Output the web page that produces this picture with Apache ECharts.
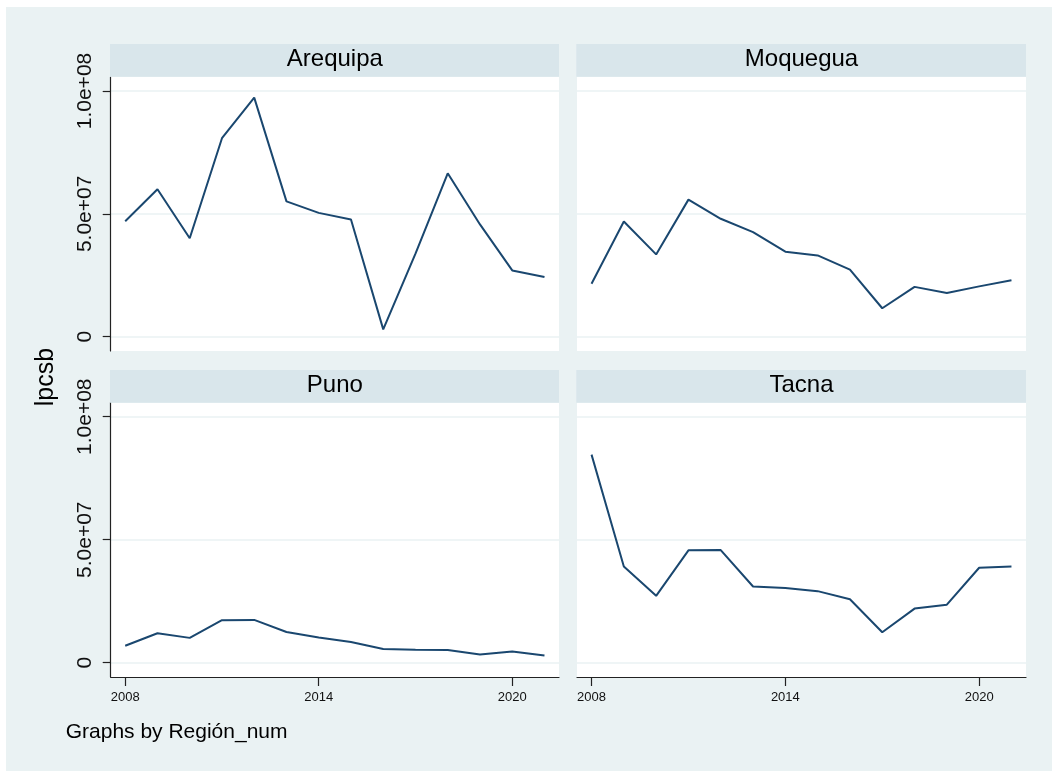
<!DOCTYPE html>
<html>
<head>
<meta charset="utf-8">
<script src="https://cdn.jsdelivr.net/npm/echarts@6/dist/echarts.min.js"></script>
<style>
html,body{margin:0;padding:0;background:#ffffff;}
#bg{position:absolute;left:6px;top:7px;right:0;bottom:0;background:#EAF2F3;}
#chart{position:absolute;left:0;top:0;width:1052px;height:771px;}
</style>
</head>
<body>
<div id="bg"></div>
<div id="chart"></div>
<script>
const years = [2008, 2009, 2010, 2011, 2012, 2013, 2014, 2015, 2016, 2017, 2018, 2019, 2020, 2021];
const panelNames = ['Arequipa', 'Moquegua', 'Puno', 'Tacna'];
const arequipa = [4.70e7, 6.00e7, 4.01e7, 8.08e7, 9.73e7, 5.51e7, 5.04e7, 4.77e7, 0.30e7, 3.38e7, 6.65e7, 4.57e7, 2.70e7, 2.43e7];
const moquegua = [2.16e7, 4.69e7, 3.35e7, 5.58e7, 4.80e7, 4.26e7, 3.46e7, 3.31e7, 2.73e7, 1.16e7, 2.03e7, 1.78e7, 2.05e7, 2.30e7];
const puno = [0.69e7, 1.20e7, 1.01e7, 1.73e7, 1.74e7, 1.25e7, 1.03e7, 0.84e7, 0.56e7, 0.53e7, 0.52e7, 0.33e7, 0.46e7, 0.29e7];
const tacna = [8.46e7, 3.91e7, 2.72e7, 4.57e7, 4.58e7, 3.10e7, 3.04e7, 2.91e7, 2.58e7, 1.24e7, 2.20e7, 2.36e7, 3.86e7, 3.91e7];
const yTickValues = [0, 5e7, 1e8];
const yTickLabels = ['0', '5.0e+07', '1.0e+08'];
const xTickValues = [2008, 2014, 2020];
const xTickLabels = ['2008', '2014', '2020'];
const yTitle = 'lpcsb';
const noteText = 'Graphs by Región_num';

const panelSeries = [arequipa, moquegua, puno, tacna];

const LINE = '#1A476F';
const STRIP = '#D9E6EB';
const GRIDC = '#EAF2F3';
const AXISC = '#222222';
const FONT = '"Liberation Sans", Arial, Helvetica, sans-serif';

const grids = [
  {left: 110.7, top: 77, width: 448.3, height: 274},
  {left: 577, top: 77, width: 449, height: 274},
  {left: 110.7, top: 402.7, width: 448.3, height: 274.3},
  {left: 577, top: 402.7, width: 449, height: 274.3}
];

const option = {
  animation: false,
  backgroundColor: 'transparent',
  textStyle: {fontFamily: FONT},
  grid: grids.map(g => Object.assign({show: true, backgroundColor: '#ffffff', borderWidth: 0}, g)),
  xAxis: grids.map((g, i) => {
    const bottom = i >= 2;
    return {
      type: 'value', gridIndex: i, min: 2007.55, max: 2021.45,
      axisLine: {show: bottom, onZero: false, lineStyle: {color: AXISC, width: 1.2}},
      axisTick: {show: bottom, length: 9, customValues: xTickValues, lineStyle: {color: AXISC, width: 1.2}},
      axisLabel: {show: bottom, customValues: xTickValues, margin: 14, fontSize: 13, color: '#111',
        fontFamily: FONT, formatter: v => xTickLabels[xTickValues.indexOf(v)]},
      splitLine: {show: false}
    };
  }),
  yAxis: grids.map((g, i) => {
    const left = i % 2 === 0;
    return {
      type: 'value', gridIndex: i, min: -5.8e6, max: 1.057e8,
      axisLine: {show: left, lineStyle: {color: AXISC, width: 1.2}},
      axisTick: {show: left, length: 8, customValues: yTickValues, lineStyle: {color: AXISC, width: 1.2}},
      axisLabel: {show: left, customValues: yTickValues, rotate: 90, margin: 15, fontSize: 21, color: '#111',
        fontFamily: FONT, formatter: v => yTickLabels[yTickValues.indexOf(v)]},
      splitLine: {show: true, lineStyle: {color: GRIDC, width: 1.5}}
    };
  }),
  series: panelSeries.map((vals, i) => ({
    type: 'line', xAxisIndex: i, yAxisIndex: i,
    data: years.map((y, k) => [y, vals[k]]),
    showSymbol: false, symbol: 'none',
    lineStyle: {color: LINE, width: 2},
    z: 3
  })),
  graphic: [
    ...grids.map((g, i) => ({
      type: 'rect', z: 1,
      shape: {x: g.left - 0.7, y: (i < 2 ? 44 : 370), width: g.width + 0.7, height: 32.7},
      style: {fill: STRIP}
    })),
    ...grids.map((g, i) => ({
      type: 'text', z: 2,
      x: g.left + g.width / 2, y: (i < 2 ? 59 : 385),
      style: {text: panelNames[i], fontSize: 24, fontFamily: FONT, fill: '#000',
        align: 'center', verticalAlign: 'middle'}
    })),
    {
      type: 'text', z: 2, x: 46, y: 377, rotation: Math.PI / 2,
      style: {text: yTitle, fontSize: 25, fontFamily: FONT, fill: '#000', align: 'center', verticalAlign: 'middle'}
    },
    {
      type: 'text', z: 2, x: 65.7, y: 732.5,
      style: {text: noteText, fontSize: 21, fontFamily: FONT, fill: '#000', align: 'left', verticalAlign: 'middle'}
    }
  ]
};

const chart = echarts.init(document.getElementById('chart'), null, {renderer: 'canvas', width: 1052, height: 771});
chart.setOption(option);
</script>
</body>
</html>
